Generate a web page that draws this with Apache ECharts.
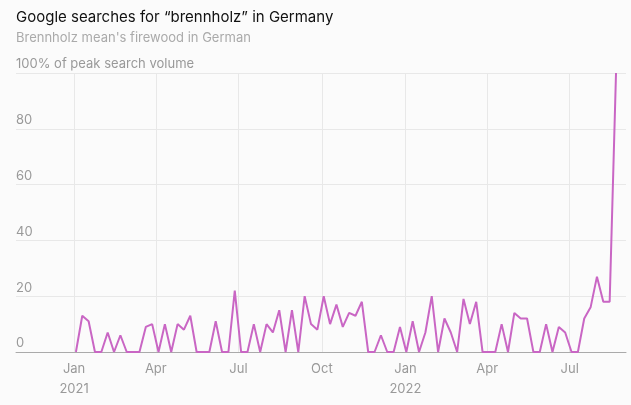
<!DOCTYPE html>
<html>
<head>
<meta charset="utf-8">
<script src="https://cdn.jsdelivr.net/npm/echarts@6/dist/echarts.min.js"></script>
<style>
html, body { margin: 0; padding: 0; background: #fbfbfb; }
#chart { width: 631px; height: 405px; }
</style>
</head>
<body>
<div id="chart"></div>
<script>
// weekly points, first week starts 2021-01-03
var weekStart = '2021-01-03';
var searches = [
	0, 13, 11, 0, 0, 7, 0, 6, 0, 0, 0, 9, 10, 0, 10, 0, 10, 8,
	13, 0, 0, 0, 11, 0, 0, 22, 0, 0, 10, 0, 10, 7, 15, 0, 15, 0,
	20, 10, 8, 20, 10, 17, 9, 14, 13, 18, 0, 0, 6, 0, 0, 9, 0, 11,
	0, 7, 20, 0, 12, 7, 0, 19, 10, 18, 0, 0, 0, 10, 0, 14, 12, 12,
	0, 0, 10, 0, 9, 7, 0, 0, 12, 16, 27, 18, 18, 100
];
var tickDates = ['2021-01-01', '2021-04-01', '2021-07-01', '2021-10-01', '2022-01-01', '2022-04-01', '2022-07-01'];
var monthNames = ['Jan', 'Feb', 'Mar', 'Apr', 'May', 'Jun', 'Jul', 'Aug', 'Sep', 'Oct', 'Nov', 'Dec'];
var yTicks = [0, 20, 40, 60, 80, 100];

var toTime = function(d) {
	return new Date(d + 'T00:00:00Z').getTime();
};

var chart = function() {
	var myChart = echarts.init(document.getElementById('chart'));
	var t0 = toTime(weekStart);
	var points = [];
	for (var i = 0; i < searches.length; i++) {
		points.push([t0 + i * 7 * 86400000, searches[i]]);
	}
	var ticks = tickDates.map(toTime);
	var font = 'Inter, "Liberation Sans", sans-serif';
	var option = {
		backgroundColor: '#fbfbfb',
		animation: false,
		title: {
			text: 'Google searches for \u201cbrennholz\u201d in Germany',
			subtext: 'Brennholz mean\'s firewood in German',
			left: 11,
			top: 5,
			itemGap: 7,
			textStyle: { fontFamily: font, fontSize: 15, fontWeight: 'normal', color: '#111' },
			subtextStyle: { fontFamily: font, fontSize: 13, color: '#aaa' }
		},
		grid: { left: 16, right: 5, top: 73, bottom: 53 },
		xAxis: {
			type: 'value',
			min: toTime('2020-10-29'),
			max: toTime('2022-09-01'),
			axisLine: { show: true, onZero: false, lineStyle: { color: '#aaa', width: 1 } },
			axisTick: { show: false, customValues: ticks },
			splitLine: { show: true, lineStyle: { color: '#e8e8e8', width: 1 } },
			axisLabel: {
				customValues: ticks,
				color: '#999',
				fontFamily: font,
				fontSize: 13,
				lineHeight: 20,
				margin: 7,
				formatter: function(v) {
					var d = new Date(v);
					var s = monthNames[d.getUTCMonth()];
					if (d.getUTCMonth() === 0) s += '\n' + d.getUTCFullYear();
					return s;
				}
			}
		},
		yAxis: {
			type: 'value',
			min: 0,
			max: 100,
			interval: 20,
			axisLine: { show: false },
			axisTick: { show: false },
			splitLine: { lineStyle: { color: '#e8e8e8', width: 1 } },
			axisLabel: {
				inside: true,
				margin: 0,
				verticalAlign: 'bottom',
				padding: [0, 0, 2, 0],
				color: '#999',
				fontFamily: font,
				fontSize: 13,
				formatter: function(v) {
					return v === yTicks[yTicks.length - 1] ? '100% of peak search volume' : String(v);
				}
			}
		},
		series: [{
			type: 'line',
			data: points,
			showSymbol: false,
			lineStyle: { color: '#c966c4', width: 2 },
			z: 3
		}]
	};
	myChart.setOption(option);
};
chart();
</script>
</body>
</html>
